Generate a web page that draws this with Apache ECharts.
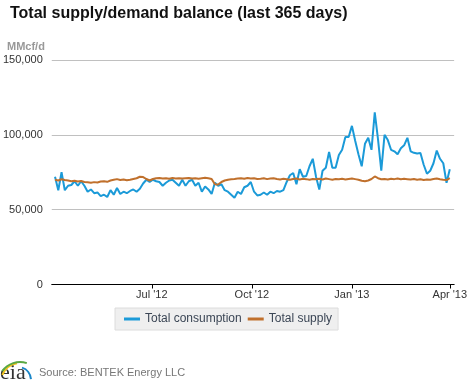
<!DOCTYPE html>
<html>
<head>
<meta charset="utf-8">
<script src="https://cdn.jsdelivr.net/npm/echarts@6/dist/echarts.min.js"></script>
<style>
html,body{margin:0;padding:0;background:#fff;}
#chart{width:470px;height:383px;}
</style>
</head>
<body>
<div id="chart"></div>
<script>
// Data: one value every 3 days, starting 3 Apr 2012 (MMcf/d)
const startDate = [2012, 3, 3];
const stepDays = 3;
const consumption = [
  72000, 63000, 75000, 63000, 66000, 66500, 69000, 66000, 69000, 66000,
  62000, 63500, 61000, 61500, 59000, 60000, 58500, 63000, 60000, 64500,
  60500, 62000, 61000, 62500, 63500, 62000, 64000, 67500, 70000, 68500,
  70000, 69000, 68500, 66000, 68000, 69500, 70000, 68000, 66000, 70000,
  66000, 69000, 70000, 66000, 68000, 62000, 65500, 63500, 60500, 68000,
  66000, 67000, 63000, 62000, 60000, 58000, 62000, 60500, 65000, 66000,
  68500, 62000, 59500, 60000, 61500, 60000, 62000, 61000, 62500, 62000,
  63000, 68500, 73000, 74500, 67000, 77000, 72000, 72500, 79000, 84000,
  72000, 63500, 76000, 78000, 88500, 78000, 78000, 86500, 90000, 98500,
  98500, 106000, 96000, 87000, 79000, 94000, 98000, 90000, 115000, 97000,
  76000, 100000, 96500, 90000, 89000, 87000, 91000, 93000, 98000, 89000,
  88000, 87500, 87800, 80000, 74000, 76000, 81000, 89500, 84000, 81000,
  68000, 77000
];
const supply = [
  70000, 69500, 70300, 69800, 69500, 69000, 69300, 68800, 69200, 68500,
  68300, 68000, 68400, 68200, 68800, 69000, 68600, 69500, 70000, 70400,
  69800, 70200, 69600, 70000, 70500, 71000, 72000, 71800, 70500, 69500,
  70500, 71000, 71200, 70800, 71000, 70600, 71200, 70900, 71000, 70800,
  71000, 71200, 70800, 71000, 70700, 71000, 71300, 71000, 70500, 67000,
  66800, 68500, 69500, 70000, 70300, 70500, 70800, 71000, 70600, 71200,
  70800, 71000, 70500, 70700, 71000, 70400, 70800, 71000, 70500, 70200,
  70600, 70300, 70000, 70500, 70800, 70200, 70600, 70400, 70000, 70500,
  70300, 70600, 70200, 70800, 70400, 70000, 70500, 70300, 70600, 70200,
  70500, 70800, 70400, 70000, 69300, 69000, 69500, 70500, 72200, 71000,
  70300, 70500, 70200, 70600, 70400, 70800, 70300, 70600, 70400, 70200,
  70500, 70000, 70300, 69800, 70200, 70000, 70500, 70800, 70300, 70000,
  69800, 71000
];
const tickDates = [[2012, 6, 1], [2012, 9, 1], [2013, 0, 1], [2013, 3, 1]];
const monthNames = ['Jan','Feb','Mar','Apr','May','Jun','Jul','Aug','Sep','Oct','Nov','Dec'];
const seriesNames = ['Total consumption', 'Total supply'];

const DAY = 86400000;
const t0 = Date.UTC(startDate[0], startDate[1], startDate[2]);
function pairs(arr) { return arr.map((v, i) => [t0 + i * stepDays * DAY, v]); }
const tickValues = tickDates.map(d => Date.UTC(d[0], d[1], d[2]));

const chart = echarts.init(document.getElementById('chart'), null, {renderer: 'canvas'});
const font = 'Liberation Sans, Arial, sans-serif';
chart.setOption({
  animation: false,
  backgroundColor: '#fff',
  textStyle: {fontFamily: font},
  title: {
    text: 'Total supply/demand balance (last 365 days)',
    left: 5, top: 1,
    textStyle: {fontSize: 16, fontWeight: 'bold', color: '#111', fontFamily: font}
  },
  grid: {left: 47, right: 10, top: 60, bottom: 98.5},
  legend: {
    data: seriesNames,
    left: 115, top: 308,
    backgroundColor: '#efefef',
    borderColor: '#dcdcdc', borderWidth: 1, borderRadius: 0,
    padding: [5, 6, 5, 9],
    itemGap: 6,
    itemWidth: 16, itemHeight: 3,
    icon: 'rect',
    textStyle: {fontSize: 12, color: '#3b4655', fontFamily: font}
  },
  xAxis: {
    type: 'value',
    min: Date.UTC(2012, 2, 31),
    max: Date.UTC(2013, 3, 5),
    axisLine: {lineStyle: {color: '#000', width: 1}},
    axisTick: {show: true, customValues: tickValues, length: 4, lineStyle: {color: '#000'}},
    axisLabel: {
      customValues: tickValues,
      margin: 5,
      fontSize: 11, color: '#333', fontFamily: font,
      formatter: function (v) {
        const d = new Date(v);
        return monthNames[d.getUTCMonth()] + " '" + String(d.getUTCFullYear()).slice(2);
      }
    },
    splitLine: {show: false}
  },
  yAxis: {
    type: 'value', min: 0, max: 150000, interval: 50000,
    axisLine: {show: false}, axisTick: {show: false},
    axisLabel: {
      margin: 9, fontSize: 11, color: '#333', fontFamily: font,
      formatter: v => v.toLocaleString('en-US')
    },
    splitLine: {lineStyle: {color: '#c0c0c0', width: 1}}
  },
  series: [
    {
      name: seriesNames[0], type: 'line', data: pairs(consumption),
      showSymbol: false, symbol: 'none',
      lineStyle: {color: '#1b9ad8', width: 2}, itemStyle: {color: '#1b9ad8'}, z: 3
    },
    {
      name: seriesNames[1], type: 'line', data: pairs(supply),
      showSymbol: false, symbol: 'none',
      lineStyle: {color: '#c0702c', width: 2}, itemStyle: {color: '#c0702c'}, z: 4
    }
  ],
  graphic: [
    {type: 'text', left: 7, top: 41, style: {text: 'MMcf/d', font: 'bold 11px ' + font, fill: '#999'}},
    {type: 'text', left: 39, top: 367, style: {text: 'Source: BENTEK Energy LLC', font: '11px ' + font, fill: '#777'}},
    {type: 'text', left: 0, top: 362, style: {text: 'eia', font: '22px Liberation Serif, serif', fill: '#333'}},
    {type: 'arc', shape: {cx: 20, cy: 382, r: 19, startAngle: Math.PI * 1.12, endAngle: Math.PI * 1.45}, style: {stroke: '#f2c21b', lineWidth: 2, fill: null}},
    {type: 'arc', shape: {cx: 20, cy: 384, r: 22, startAngle: Math.PI * 1.2, endAngle: Math.PI * 1.6}, style: {stroke: '#5aa843', lineWidth: 2, fill: null}},
    {type: 'arc', shape: {cx: 18, cy: 380, r: 13, startAngle: Math.PI * 1.6, endAngle: Math.PI * 1.98}, style: {stroke: '#1a86c8', lineWidth: 2, fill: null}}
  ]
});
</script>
</body>
</html>
